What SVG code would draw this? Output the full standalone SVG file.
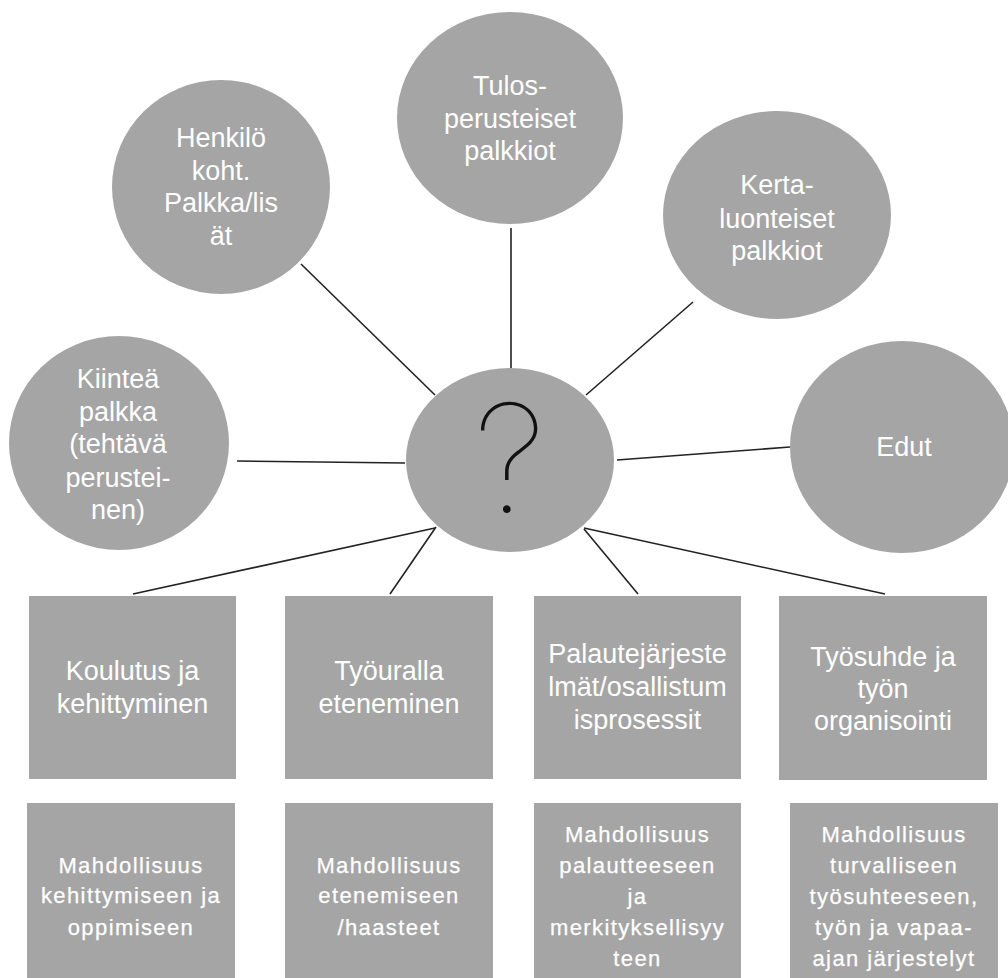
<svg xmlns="http://www.w3.org/2000/svg" width="1008" height="978" viewBox="0 0 1008 978">
<style>
.n{fill:#a5a5a5}
.t{font-family:"Liberation Sans",Arial,sans-serif;font-size:27px;fill:#ffffff;text-anchor:middle}
.s{font-family:"Liberation Sans",Arial,sans-serif;font-size:22px;fill:#ffffff;stroke:#ffffff;stroke-width:0.25;text-anchor:middle;letter-spacing:1.4px}
.c line{stroke:#222222;stroke-width:1.6}
.q{font-family:Inter,Lato,"Open Sans",sans-serif;font-weight:100;font-size:150px;fill:#111111;text-anchor:middle}
</style>
<rect width="1008" height="978" fill="#ffffff"/>
<g class="c" id="connectors">
<line x1="301" y1="264" x2="435" y2="395"/>
<line x1="511" y1="228" x2="511" y2="368"/>
<line x1="693" y1="302" x2="586" y2="395"/>
<line x1="237" y1="461" x2="405" y2="463"/>
<line x1="617" y1="460" x2="790" y2="447"/>
<line x1="435" y1="528" x2="133" y2="594"/>
<line x1="436" y1="527" x2="390" y2="594"/>
<line x1="584" y1="529" x2="638" y2="594"/>
<line x1="584" y1="528" x2="885" y2="594"/>
</g>
<g id="center">
<ellipse class="n" cx="510" cy="460" rx="104" ry="92"/>
<text class="q" x="510" y="512">?</text>
</g>
<g id="henkilo">
<ellipse class="n" cx="221" cy="187" rx="109" ry="107"/>
<text class="t" x="221" y="147">Henkilö</text>
<text class="t" x="221" y="180">koht.</text>
<text class="t" x="221" y="212">Palkka/lis</text>
<text class="t" x="221" y="245">ät</text>
</g>
<g id="tulos">
<ellipse class="n" cx="510" cy="118" rx="113" ry="106"/>
<text class="t" x="510" y="95">Tulos-</text>
<text class="t" x="510" y="128">perusteiset</text>
<text class="t" x="510" y="160">palkkiot</text>
</g>
<g id="kerta">
<ellipse class="n" cx="777" cy="215" rx="114" ry="104"/>
<text class="t" x="777" y="194">Kerta-</text>
<text class="t" x="777" y="228">luonteiset</text>
<text class="t" x="777" y="260">palkkiot</text>
</g>
<g id="kiintea">
<ellipse class="n" cx="119" cy="443" rx="110" ry="107"/>
<text class="t" x="118" y="388">Kiinteä</text>
<text class="t" x="118" y="421">palkka</text>
<text class="t" x="118" y="453">(tehtävä</text>
<text class="t" x="118" y="487">perustei-</text>
<text class="t" x="118" y="519">nen)</text>
</g>
<g id="edut">
<ellipse class="n" cx="902" cy="447" rx="112" ry="106"/>
<text class="t" x="904" y="456">Edut</text>
</g>
<g id="koulutus">
<rect class="n" x="29" y="596" width="207" height="183"/>
<text class="t" x="132.5" y="680">Koulutus ja</text>
<text class="t" x="132.5" y="713">kehittyminen</text>
</g>
<g id="tyouralla">
<rect class="n" x="285" y="596" width="208" height="183"/>
<text class="t" x="389" y="680">Työuralla</text>
<text class="t" x="389" y="713">eteneminen</text>
</g>
<g id="palaute">
<rect class="n" x="534" y="596" width="207" height="183"/>
<text class="t" x="637.5" y="663">Palautejärjeste</text>
<text class="t" x="637.5" y="696">lmät/osallistum</text>
<text class="t" x="637.5" y="729">isprosessit</text>
</g>
<g id="tyosuhde">
<rect class="n" x="779" y="596" width="208" height="184"/>
<text class="t" x="883" y="666">Työsuhde ja</text>
<text class="t" x="883" y="698">työn</text>
<text class="t" x="883" y="730">organisointi</text>
</g>
<g id="m1">
<rect class="n" x="27" y="803" width="208" height="180"/>
<text class="s" x="131" y="873">Mahdollisuus</text>
<text class="s" x="131" y="903">kehittymiseen ja</text>
<text class="s" x="131" y="935">oppimiseen</text>
</g>
<g id="m2">
<rect class="n" x="285" y="803" width="208" height="180"/>
<text class="s" x="389" y="873">Mahdollisuus</text>
<text class="s" x="389" y="903">etenemiseen</text>
<text class="s" x="389" y="935">/haasteet</text>
</g>
<g id="m3">
<rect class="n" x="534" y="803" width="207" height="180"/>
<text class="s" x="637.5" y="842">Mahdollisuus</text>
<text class="s" x="637.5" y="873">palautteeseen</text>
<text class="s" x="637.5" y="904">ja</text>
<text class="s" x="637.5" y="935">merkityksellisyy</text>
<text class="s" x="637.5" y="966">teen</text>
</g>
<g id="m4">
<rect class="n" x="790" y="803" width="208" height="180"/>
<text class="s" x="894" y="842">Mahdollisuus</text>
<text class="s" x="894" y="873">turvalliseen</text>
<text class="s" x="894" y="904">työsuhteeseen,</text>
<text class="s" x="894" y="935">työn ja vapaa-</text>
<text class="s" x="894" y="966">ajan järjestelyt</text>
</g>
</svg>
